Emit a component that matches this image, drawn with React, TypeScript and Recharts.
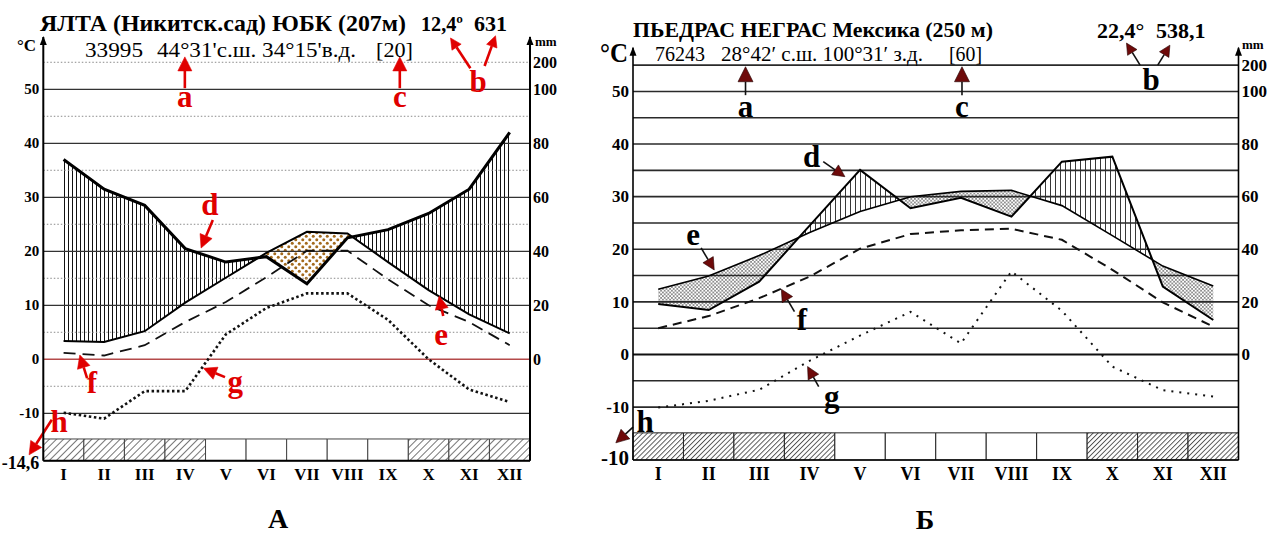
import {
  ComposedChart,
  Line,
  Area,
  XAxis,
  YAxis,
  ReferenceLine,
  ReferenceArea,
  ReferenceDot,
} from 'recharts'

const SERIF = '"Liberation Serif", "Times New Roman", serif'

const months = ['I', 'II', 'III', 'IV', 'V', 'VI', 'VII', 'VIII', 'IX', 'X', 'XI', 'XII']
const monthPos = [1, 2, 3, 4, 5, 6, 7, 8, 9, 10, 11, 12]
// right axis: position on the °C scale and the mm label shown there
const mmTickPos = [0, 10, 20, 30, 40, 50, 55]
const mmTickLabels = ['0', '20', '40', '60', '80', '100', '200']

// А — Ялта (Никитский сад)
const yaltaTemp = [3.4, 3.2, 5.2, 10.5, 15.1, 19.7, 23.6, 23.3, 18.0, 12.8, 8.3, 4.8]
const yaltaPrecip = [74, 63, 57, 41, 36, 38, 28, 45, 48, 54, 63, 84]
const yaltaMinMean = [1.2, 0.7, 2.6, 6.9, 10.6, 15.2, 20.1, 20.1, 14.8, 10.0, 6.9, 2.6]
const yaltaAbsMin = [-9.9, -11.0, -5.9, -5.9, 4.6, 9.5, 12.2, 12.2, 7.3, 0.0, -5.6, -7.9]
const yaltaFrost = [1, 1, 1, 1, 0, 0, 0, 0, 0, 1, 1, 1]

// Б — Пьедрас-Неграс
const pnTemp = [12.4, 14.9, 18.8, 23.2, 27.2, 30.0, 31.0, 31.2, 28.3, 22.6, 16.8, 13.0]
const pnPrecip = [19.2, 16.9, 27.7, 49.0, 70.2, 55.6, 59.6, 52.4, 73.3, 75.2, 25.8, 13.1]
const pnMinMean = [5.0, 7.3, 10.7, 14.8, 20.1, 22.9, 23.6, 23.9, 21.8, 16.1, 9.9, 5.3]
const pnAbsMin = [-10.1, -8.8, -6.7, -1.2, 3.6, 8.1, 2.1, 15.8, 8.3, -2.3, -6.8, -8.0]
const pnFrost = [1, 1, 1, 1, 0, 0, 0, 0, 0, 1, 1, 1]

// annotation arrows: [x from, °C from, x tip, °C tip, head size]
const yaltaArrows = [
  [3.99, 50.2, 3.99, 56.0, 14],
  [9.29, 50.2, 9.29, 56.0, 14],
  [11.03, 53.9, 10.54, 59.5, 11],
  [11.38, 54.3, 11.65, 59.9, 11],
  [4.68, 25.8, 4.39, 20.6, 13],
  [10.36, 8.0, 10.26, 11.7, 13],
  [1.58, -3.5, 1.4, 0.8, 13],
  [4.98, -3.3, 4.45, -1.67, 13],
  [0.71, -11.2, 0.15, -17.7, 13],
]
const yaltaLetters: [string, number, number][] = [
  ['a', 3.99, 46.7],
  ['c', 9.29, 46.7],
  ['b', 11.22, 49.5],
  ['d', 4.61, 26.7],
  ['e', 10.31, 2.65],
  ['f', 1.7, -6.2],
  ['g', 5.23, -6.05],
  ['h', 0.89, -13.5],
]
const pnArrows = [
  [2.73, 49.3, 2.73, 54.7, 15],
  [7.02, 49.3, 7.02, 54.7, 15],
  [10.55, 55.0, 10.28, 59.2, 11],
  [10.9, 55.0, 11.14, 58.8, 11],
  [4.27, 36.65, 4.7, 33.8, 12],
  [1.85, 20.25, 2.11, 16.06, 12],
  [3.7, 8.14, 3.44, 12.4, 12],
  [4.18, -6.1, 3.96, -2.3, 12],
  [0.5, -13.8, 0.16, -16.8, 13],
]
const pnLetters: [string, number, number][] = [
  ['a', 2.73, 45.2],
  ['c', 7.02, 45.2],
  ['b', 10.77, 50.3],
  ['d', 4.04, 35.6],
  ['e', 1.69, 20.8],
  ['f', 3.85, 4.66],
  ['g', 4.44, -9.9],
  ['h', 0.74, -14.7],
]

// Walter–Lieth scale: 20 mm = 10 °C, above 100 mm compressed 1:10
const mmToC = (mm: number) => (mm <= 100 ? mm / 2 : 50 + (mm - 100) / 20)

function buildRows(temp: number[], precipMm: number[], minMean: number[], absMin: number[]) {
  const p = precipMm.map(mmToC)
  const rows: any[] = []
  for (let i = 0; i < 12; i++) {
    rows.push({
      x: monthPos[i],
      t: temp[i],
      p: p[i],
      f: minMean[i],
      g: absMin[i],
      hum: [temp[i], Math.max(temp[i], p[i])],
      ari: [p[i], Math.max(p[i], temp[i])],
    })
    if (i < 11) {
      // where the two curves cross, the fills must meet
      const d0 = temp[i] - p[i]
      const d1 = temp[i + 1] - p[i + 1]
      if (d0 * d1 < 0) {
        const k = d0 / (d0 - d1)
        const v = temp[i] + k * (temp[i + 1] - temp[i])
        rows.push({ x: monthPos[i] + k, hum: [v, v], ari: [v, v] })
      }
    }
  }
  return rows
}

type Cfg = {
  id: string
  left: number
  width: number
  margin: { top: number; right: number; bottom: number; left: number }
  rightWidth: number
  yMin: number
  yMax: number
  bandTop: number
  leftTicks: number[]
  bottomLabel: string
  solidGrid: number[]
  dottedGrid: number[]
  temp: number[]
  precip: number[]
  minMean: number[]
  absMin: number[]
  frost: number[]
  arrows: number[][]
  letters: [string, number, number][]
  st: any
}

const yalta: Cfg = {
  id: 'A',
  left: 0,
  width: 600,
  margin: { top: 36.9, right: 30, bottom: 45.2, left: 3.3 },
  rightWidth: 40,
  yMin: -18.8,
  yMax: 59.7,
  bandTop: -14.76,
  leftTicks: [-18.8, -10, 0, 10, 20, 30, 40, 50],
  bottomLabel: '-14,6',
  solidGrid: [50, 40, 30, 20, 10, -10],
  dottedGrid: [55, 45, 35, 25, 15, 5, -5],
  temp: yaltaTemp,
  precip: yaltaPrecip,
  minMean: yaltaMinMean,
  absMin: yaltaAbsMin,
  frost: yaltaFrost,
  arrows: yaltaArrows,
  letters: yaltaLetters,
  st: {
    axisW: 2,
    grid: '#333',
    gridW: 1.2,
    zero: '#b44a4a',
    zeroW: 1.5,
    tickFs: 15,
    bottomFs: 18,
    bottomDy: 8,
    mmFs: 16,
    monthFs: 17,
    monthDy: 19.2,
    pW: 3,
    tW: 2,
    fDash: '12 7',
    fW: 1.8,
    gDash: '2.5 2.6',
    gW: 2.6,
    vh: { w: 4, lineW: 1, color: '#111' },
    dot: { s: 7, r: 1.5, color: '#a36a1d' },
    diag: { s: 5, color: '#666', w: 0.9 },
    band: '#444',
    letterColor: '#e00000',
    letterFs: 31,
    shaft: '#e00000',
    shaftW: 2.6,
    head: '#e00000',
    headStroke: '#e00000',
  },
}

const piedras: Cfg = {
  id: 'B',
  left: 590,
  width: 679,
  margin: { top: 47.8, right: 2.5, bottom: 46, left: 3 },
  rightWidth: 28,
  yMin: -20.06,
  yMax: 58.3,
  bandTop: -14.9,
  leftTicks: [-20.06, -10, 0, 10, 20, 30, 40, 50],
  bottomLabel: '-10',
  solidGrid: [55, 50, 45, 40, 35, 30, 25, 20, 15, 10, 5, -5, -10],
  dottedGrid: [],
  temp: pnTemp,
  precip: pnPrecip,
  minMean: pnMinMean,
  absMin: pnAbsMin,
  frost: pnFrost,
  arrows: pnArrows,
  letters: pnLetters,
  st: {
    axisW: 1.6,
    grid: '#2a2a2a',
    gridW: 1.6,
    zero: '#111',
    zeroW: 2,
    tickFs: 17,
    bottomFs: 21,
    bottomDy: 5,
    mmFs: 17,
    monthFs: 18,
    monthDy: 20,
    pW: 2,
    tW: 1.6,
    fDash: '9 6',
    fW: 2,
    gDash: '2 6',
    gW: 2,
    vh: { w: 5, lineW: 0.9, color: '#222' },
    dot: { s: 3.6, r: 0.75, color: '#000' },
    diag: { s: 3.5, color: '#333', w: 0.8 },
    band: '#222',
    letterColor: '#000',
    letterFs: 31,
    shaft: '#111',
    shaftW: 1.6,
    head: '#6e0a0a',
    headStroke: '#200',
  },
}

function ClimateChart({ c }: { c: Cfg }) {
  const rows = buildRows(c.temp, c.precip, c.minMean, c.absMin)
  const s = c.st
  const id = c.id

  const arrowShape = (hl: number) => (p: any) => {
    const { x1, y1, x2, y2 } = p
    const dx = x2 - x1
    const dy = y2 - y1
    const len = Math.hypot(dx, dy) || 1
    const ux = dx / len
    const uy = dy / len
    const hw = hl / 2
    const bx = x2 - ux * hl
    const by = y2 - uy * hl
    return (
      <g>
        <line x1={x1} y1={y1} x2={bx} y2={by} stroke={s.shaft} strokeWidth={s.shaftW} />
        <path
          d={`M${x2},${y2} L${bx - uy * hw},${by + ux * hw} L${bx + uy * hw},${by - ux * hw} Z`}
          fill={s.head}
          stroke={s.headStroke}
          strokeWidth={0.6}
        />
      </g>
    )
  }

  const axisHead = (p: any) => (
    <path d={`M${p.cx},${p.cy - 1} l-3.5,9 l7,0 z`} fill="#000" />
  )

  return (
    <div style={{ position: 'absolute', left: c.left, top: 0 }}>
      <ComposedChart width={c.width} height={536} data={rows} margin={c.margin}>
        <defs>
          <pattern id={`${id}-vh`} patternUnits="userSpaceOnUse" width={s.vh.w} height={10}>
            <line x1={0.5} y1={0} x2={0.5} y2={10} stroke={s.vh.color} strokeWidth={s.vh.lineW} />
          </pattern>
          <pattern id={`${id}-dots`} patternUnits="userSpaceOnUse" width={s.dot.s} height={s.dot.s}>
            <circle cx={s.dot.s / 4} cy={s.dot.s / 4} r={s.dot.r} fill={s.dot.color} />
            <circle cx={(s.dot.s * 3) / 4} cy={(s.dot.s * 3) / 4} r={s.dot.r} fill={s.dot.color} />
          </pattern>
          <pattern
            id={`${id}-diag`}
            patternUnits="userSpaceOnUse"
            width={s.diag.s}
            height={s.diag.s}
            patternTransform="rotate(45)"
          >
            <rect width={s.diag.s} height={s.diag.s} fill="#fff" />
            <line x1={0.5} y1={0} x2={0.5} y2={s.diag.s} stroke={s.diag.color} strokeWidth={s.diag.w} />
          </pattern>
        </defs>

        <XAxis
          dataKey="x"
          type="number"
          domain={[0.5, 12.5]}
          allowDataOverflow
          ticks={monthPos}
          interval={0}
          height={30}
          tickSize={0}
          tickMargin={0}
          tickLine={false}
          axisLine={{ stroke: '#000', strokeWidth: s.axisW }}
          tick={(p: any) => (
            <text
              x={p.x}
              y={p.y + s.monthDy}
              textAnchor="middle"
              fontFamily={SERIF}
              fontWeight="bold"
              fontSize={s.monthFs}
              fill="#000"
            >
              {months[Math.round(p.payload.value) - 1]}
            </text>
          )}
        />
        <YAxis
          yAxisId="L"
          type="number"
          domain={[c.yMin, c.yMax]}
          allowDataOverflow
          ticks={c.leftTicks}
          interval={0}
          width={40}
          tickSize={0}
          tickMargin={4}
          tickLine={false}
          axisLine={{ stroke: '#000', strokeWidth: s.axisW }}
          tick={(p: any) => {
            const v = p.payload.value
            const bottom = Math.abs(v - c.yMin) < 0.01
            return (
              <text
                x={p.x}
                y={p.y + (bottom ? s.bottomDy : s.tickFs / 3)}
                textAnchor="end"
                fontFamily={SERIF}
                fontWeight="bold"
                fontSize={bottom ? s.bottomFs : s.tickFs}
                fill="#000"
              >
                {bottom ? c.bottomLabel : String(v)}
              </text>
            )
          }}
        />
        <YAxis
          yAxisId="R"
          orientation="right"
          type="number"
          domain={[c.yMin, c.yMax]}
          allowDataOverflow
          ticks={mmTickPos}
          interval={0}
          width={c.rightWidth}
          tickSize={0}
          tickMargin={3}
          tickLine={false}
          axisLine={{ stroke: '#000', strokeWidth: s.axisW }}
          tick={(p: any) => (
            <text
              x={p.x}
              y={p.y + s.mmFs / 3}
              textAnchor="start"
              fontFamily={SERIF}
              fontWeight="bold"
              fontSize={s.mmFs}
              fill="#000"
            >
              {mmTickLabels[mmTickPos.indexOf(p.payload.value)]}
            </text>
          )}
        />

        {c.frost.map((fr, i) => (
          <ReferenceArea
            key={`band${i}`}
            yAxisId="L"
            x1={monthPos[i] - 0.5}
            x2={monthPos[i] + 0.5}
            y1={c.yMin}
            y2={c.bandTop}
            fill={fr ? `url(#${id}-diag)` : '#fff'}
            fillOpacity={1}
            stroke={s.band}
            strokeWidth={1}
            ifOverflow="visible"
          />
        ))}
        {c.dottedGrid.map((v) => (
          <ReferenceLine
            key={`dg${v}`}
            yAxisId="L"
            y={v}
            stroke="#8a8a8a"
            strokeWidth={1}
            strokeDasharray="1.5 2"
          />
        ))}
        {c.solidGrid.map((v) => (
          <ReferenceLine key={`sg${v}`} yAxisId="L" y={v} stroke={s.grid} strokeWidth={s.gridW} />
        ))}
        <ReferenceLine yAxisId="L" y={0} stroke={s.zero} strokeWidth={s.zeroW} />

        <Area
          yAxisId="L"
          type="linear"
          dataKey="hum"
          stroke="none"
          fill={`url(#${id}-vh)`}
          fillOpacity={1}
          dot={false}
          activeDot={false}
          isAnimationActive={false}
        />
        <Area
          yAxisId="L"
          type="linear"
          dataKey="ari"
          stroke="none"
          fill={`url(#${id}-dots)`}
          fillOpacity={1}
          dot={false}
          activeDot={false}
          isAnimationActive={false}
        />
        <Line
          yAxisId="L"
          type="linear"
          dataKey="f"
          stroke="#111"
          strokeWidth={s.fW}
          strokeDasharray={s.fDash}
          dot={false}
          activeDot={false}
          connectNulls
          isAnimationActive={false}
        />
        <Line
          yAxisId="L"
          type="linear"
          dataKey="g"
          stroke="#111"
          strokeWidth={s.gW}
          strokeDasharray={s.gDash}
          dot={false}
          activeDot={false}
          connectNulls
          isAnimationActive={false}
        />
        <Line
          yAxisId="L"
          type="linear"
          dataKey="t"
          stroke="#000"
          strokeWidth={s.tW}
          dot={false}
          activeDot={false}
          connectNulls
          isAnimationActive={false}
        />
        <Line
          yAxisId="L"
          type="linear"
          dataKey="p"
          stroke="#000"
          strokeWidth={s.pW}
          dot={false}
          activeDot={false}
          connectNulls
          isAnimationActive={false}
        />

        <ReferenceDot yAxisId="L" x={0.5} y={c.yMax} ifOverflow="visible" shape={axisHead} />
        <ReferenceDot yAxisId="L" x={12.5} y={c.yMax} ifOverflow="visible" shape={axisHead} />

        {c.arrows.map((a, i) => (
          <ReferenceLine
            key={`ar${i}`}
            yAxisId="L"
            segment={[
              { x: a[0], y: a[1] },
              { x: a[2], y: a[3] },
            ]}
            ifOverflow="visible"
            shape={arrowShape(a[4])}
          />
        ))}
        {c.letters.map(([ch, x, y]) => (
          <ReferenceDot
            key={`lt${ch}`}
            yAxisId="L"
            x={x}
            y={y}
            ifOverflow="visible"
            shape={(p: any) => (
              <text
                x={p.cx}
                y={p.cy}
                textAnchor="middle"
                fontFamily={SERIF}
                fontWeight="bold"
                fontSize={s.letterFs}
                fill={s.letterColor}
              >
                {ch}
              </text>
            )}
          />
        ))}
      </ComposedChart>
    </div>
  )
}

export default function App() {
  const tx = { fontFamily: SERIF, fill: '#000' }
  return (
    <div
      style={{
        position: 'absolute',
        left: 0,
        top: 0,
        width: 1269,
        height: 536,
        background: '#fff',
        overflow: 'hidden',
      }}
    >
      <ClimateChart c={yalta} />
      <ClimateChart c={piedras} />
      <svg
        width={1269}
        height={536}
        style={{ position: 'absolute', left: 0, top: 0, pointerEvents: 'none' }}
      >
        <text {...tx} x={40} y={31} fontSize={23} fontWeight="bold" textLength={366} lengthAdjust="spacingAndGlyphs">
          ЯЛТА (Никитск.сад) ЮБК (207м)
        </text>
        <text {...tx} x={421} y={31} fontSize={22} fontWeight="bold" textLength={42} lengthAdjust="spacingAndGlyphs">
          12,4º
        </text>
        <text {...tx} x={474} y={31} fontSize={22} fontWeight="bold">
          631
        </text>
        <text {...tx} x={85} y={57} fontSize={22} textLength={58} lengthAdjust="spacingAndGlyphs">
          33995
        </text>
        <text {...tx} x={157} y={57} fontSize={22} textLength={199} lengthAdjust="spacingAndGlyphs">
          44°31'с.ш. 34°15'в.д.
        </text>
        <text {...tx} x={376} y={57} fontSize={22} textLength={37} lengthAdjust="spacingAndGlyphs">
          [20]
        </text>
        <text {...tx} x={17} y={51} fontSize={17} fontWeight="bold">
          °C
        </text>
        <text {...tx} x={535} y={46} fontSize={13} fontWeight="bold">
          mm
        </text>
        <text {...tx} x={278} y={528} fontSize={28} fontWeight="bold" textAnchor="middle">
          А
        </text>

        <text {...tx} x={633} y={37} fontSize={21} fontWeight="bold" textLength={360} lengthAdjust="spacingAndGlyphs">
          ПЬЕДРАС НЕГРАС Мексика (250 м)
        </text>
        <text {...tx} x={1097} y={38} fontSize={22} fontWeight="bold">
          22,4°
        </text>
        <text {...tx} x={1156} y={38} fontSize={22} fontWeight="bold">
          538,1
        </text>
        <text {...tx} x={655} y={61} fontSize={21} textLength={50} lengthAdjust="spacingAndGlyphs">
          76243
        </text>
        <text {...tx} x={721} y={61} fontSize={21} textLength={202} lengthAdjust="spacingAndGlyphs">
          28°42′ с.ш. 100°31′ з.д.
        </text>
        <text {...tx} x={949} y={61} fontSize={21} textLength={33} lengthAdjust="spacingAndGlyphs">
          [60]
        </text>
        <text {...tx} x={600} y={62} fontSize={28} fontWeight="bold" textLength={28} lengthAdjust="spacingAndGlyphs">
          °C
        </text>
        <text {...tx} x={1242} y={49} fontSize={13} fontWeight="bold">
          mm
        </text>
        <text {...tx} x={925} y={529} fontSize={28} fontWeight="bold" textAnchor="middle">
          Б
        </text>
      </svg>
    </div>
  )
}
